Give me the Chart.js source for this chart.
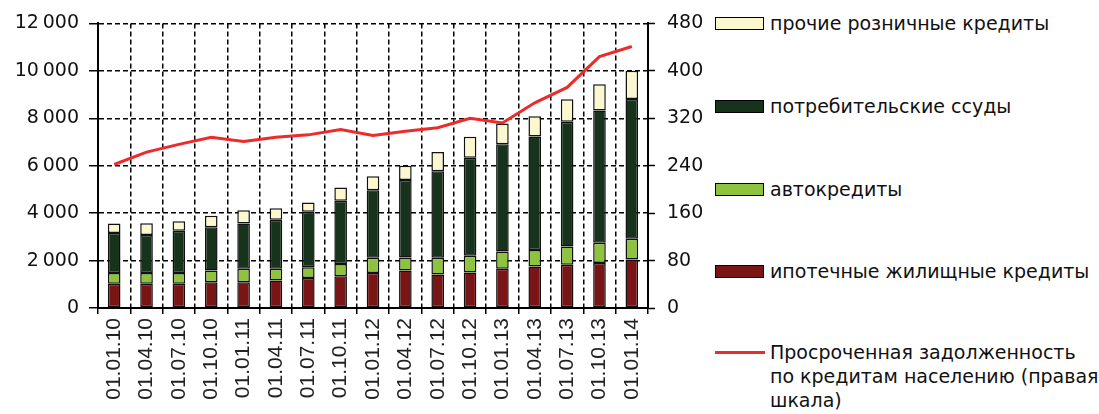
<!DOCTYPE html>
<html lang="ru">
<head>
<meta charset="utf-8">
<script src="https://cdn.jsdelivr.net/npm/chart.js@4/dist/chart.umd.min.js"></script>
<style>
  html, body { margin: 0; padding: 0; background: #fff; }
  body { width: 1099px; height: 414px; position: relative; overflow: hidden; font-family: "DejaVu Sans", sans-serif; }
  #wrap { position: absolute; left: 0; top: 0; width: 712px; height: 414px; }
  .lg { position: absolute; left: 715px; font-size: 19px; color: #111; line-height: 24px; white-space: nowrap; }
  .lg .box { position: absolute; left: 0; width: 47px; height: 11px; border: 1.5px solid #000; }
  .lg .txt { position: absolute; left: 55px; top: 0; }
  .lg .ln { position: absolute; left: 0; width: 50px; height: 3px; background: #ED2B2B; }
</style>
</head>
<body>
<div id="wrap"><canvas id="c"></canvas></div>

<div class="lg" style="top:11px"><div class="box" style="top:6px;background:#FBF7CF"></div><div class="txt">прочие розничные кредиты</div></div>
<div class="lg" style="top:94px"><div class="box" style="top:6px;background:#17331B"></div><div class="txt">потребительские ссуды</div></div>
<div class="lg" style="top:177px"><div class="box" style="top:6px;background:#8DC33F"></div><div class="txt">автокредиты</div></div>
<div class="lg" style="top:259px"><div class="box" style="top:6px;background:#7A1516"></div><div class="txt">ипотечные жилищные кредиты</div></div>
<div class="lg" style="top:340px"><div class="ln" style="top:11px"></div><div class="txt">Просроченная задолженность<br>по кредитам населению (правая<br>шкала)</div></div>

<script>
// Квартальные даты
const categories = ['01.01.10','01.04.10','01.07.10','01.10.10','01.01.11','01.04.11','01.07.11','01.10.11',
                    '01.01.12','01.04.12','01.07.12','01.10.12','01.01.13','01.04.13','01.07.13','01.10.13','01.01.14'];

// Розничные кредиты по видам, млрд руб. (левая шкала)
const mortgage = [1020,1020,1020,1090,1090,1160,1260,1340,1480,1580,1410,1500,1650,1750,1820,1900,2040];
const autoLoans = [460,460,460,490,570,490,460,520,640,550,710,700,730,700,770,850,880];
const consumer = [1680,1600,1780,1820,1900,2070,2340,2660,2850,3270,3650,4140,4520,4780,5260,5580,5890];
const otherRetail = [400,490,400,490,560,490,390,560,590,600,810,880,880,850,950,1100,1190];

// Просроченная задолженность, млрд руб. (правая шкала)
const overdue = [242,263,276,288,281,288,292,301,291,298,304,320,312,346,372,424,441];

// Деления шкал
const leftTicks = [0,2000,4000,6000,8000,10000,12000];
const rightTicks = [0,80,160,240,320,400,480];

const fmt = v => String(v).replace(/\B(?=(\d{3})+(?!\d))/g, '\u2009');

const barCommon = { stack: 's', yAxisID: 'y', order: 1, borderColor: '#111', borderWidth: 1.5,
                    borderSkipped: false, barPercentage: 0.39, categoryPercentage: 1 };

new Chart(document.getElementById('c'), {
  type: 'bar',
  data: {
    labels: categories,
    datasets: [
      { ...barCommon, label: 'ипотечные жилищные кредиты', data: mortgage, backgroundColor: '#7A1516' },
      { ...barCommon, label: 'автокредиты', data: autoLoans, backgroundColor: '#8DC33F' },
      { ...barCommon, label: 'потребительские ссуды', data: consumer, backgroundColor: '#17331B' },
      { ...barCommon, label: 'прочие розничные кредиты', data: otherRetail, backgroundColor: '#FBF7CF' },
      { type: 'line', label: 'Просроченная задолженность по кредитам населению (правая шкала)',
        data: overdue, yAxisID: 'y1', order: 0, borderColor: '#ED2B2B', borderWidth: 3,
        pointRadius: 0, tension: 0, fill: false }
    ]
  },
  options: {
    responsive: true,
    maintainAspectRatio: false,
    animation: false,
    layout: { padding: { top: 22, left: 0, right: 0, bottom: 0 } },
    plugins: { legend: { display: false }, tooltip: { enabled: false } },
    scales: {
      x: {
        stacked: true,
        grid: { offset: true, color: '#000', lineWidth: 1.5, drawTicks: true, tickLength: 6, tickColor: '#000', tickWidth: 1.5 },
        border: { display: true, color: '#000', width: 2, dash: [5, 3] },
        ticks: { minRotation: 90, maxRotation: 90, autoSkip: false, padding: 4, color: '#222',
                 font: { family: 'Liberation Sans', size: 21 } },
        afterFit: s => { s.height = 106; }
      },
      y: {
        stacked: true, min: 0, max: 12000,
        afterBuildTicks: s => { s.ticks = leftTicks.map(v => ({ value: v })); },
        grid: { color: '#000', lineWidth: 1.5, drawTicks: true, tickLength: 9, tickColor: '#000', tickWidth: 1.5 },
        border: { display: true, color: '#000', width: 2, dash: [5, 3] },
        ticks: { padding: 10, color: '#111', font: { family: 'DejaVu Sans', size: 19 }, callback: v => fmt(v) },
        afterFit: s => { s.width = 98; }
      },
      y1: {
        position: 'right', min: 0, max: 480,
        afterBuildTicks: s => { s.ticks = rightTicks.map(v => ({ value: v })); },
        grid: { drawOnChartArea: false, drawTicks: true, tickLength: 7, tickColor: '#000', tickWidth: 1.5 },
        border: { display: true, color: '#000', width: 2 },
        ticks: { padding: 12, color: '#111', font: { family: 'DejaVu Sans', size: 19 } },
        afterFit: s => { s.width = 64; }
      }
    }
  }
});
</script>
</body>
</html>
